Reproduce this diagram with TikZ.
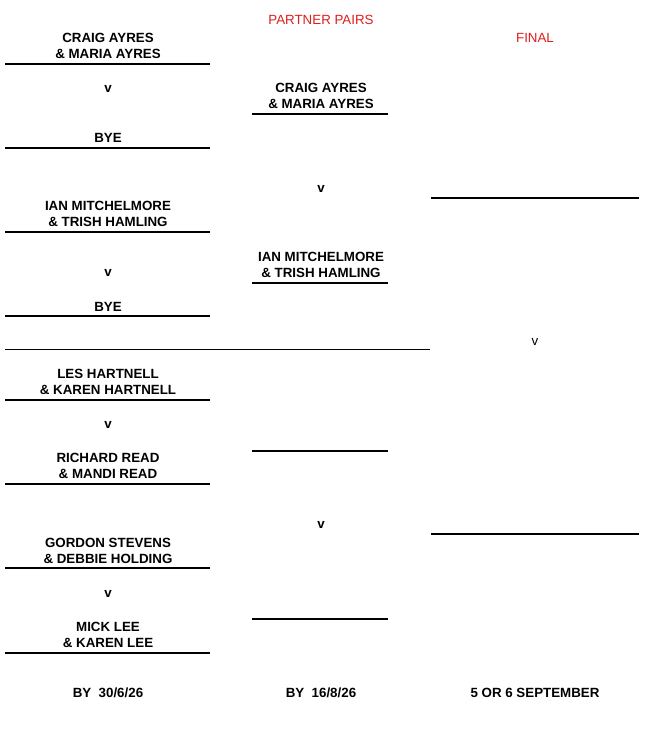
\documentclass[tikz,border=0pt]{standalone}
\usepackage{fontspec}
\setmainfont{Liberation Sans}
\definecolor{hdred}{RGB}{220,30,30}
\tikzset{
  pair/.style={font=\fontsize{10}{12}\selectfont\bfseries, align=center, inner sep=0pt},
  head/.style={font=\fontsize{10}{12}\selectfont, text=hdred, inner sep=0pt},
  slot/.style={line width=1.5pt},
}
\begin{document}
\begin{tikzpicture}[x=0.75pt,y=-0.75pt]
\useasboundingbox (0,0) rectangle (662,732);
% headings
\node [head] (pp) at (321,20) {PARTNER PAIRS};
\node [head] (fin) at (535,38) {FINAL};

% first round
\node [pair] (p1) at (108,46) {CRAIG AYRES\\\& MARIA AYRES};
\node [pair] (v1) at (108,89) {v};
\node [pair] (p2) at (108,138) {BYE};
\node [pair] (p3) at (108,214) {IAN MITCHELMORE\\\& TRISH HAMLING};
\node [pair] (v2) at (108,273) {v};
\node [pair] (p4) at (108,307) {BYE};
\node [pair] (p5) at (108,382) {LES HARTNELL\\\& KAREN HARTNELL};
\node [pair] (v3) at (108,425) {v};
\node [pair] (p6) at (108,466) {RICHARD READ\\\& MANDI READ};
\node [pair] (p7) at (108,551) {GORDON STEVENS\\\& DEBBIE HOLDING};
\node [pair] (v4) at (108,594) {v};
\node [pair] (p8) at (108,635) {MICK LEE\\\& KAREN LEE};
\foreach \y in {64,148,232,316,400,484,568,653}
  \draw [slot] (5,\y) -- (210,\y);
\draw (5,349) -- (430,349);

% second round
\node [pair] (s1) at (321,96) {CRAIG AYRES\\\& MARIA AYRES};
\node [pair] (v5) at (321,189) {v};
\node [pair] (s2) at (321,265) {IAN MITCHELMORE\\\& TRISH HAMLING};
\node [pair] (v6) at (321,525) {v};
\foreach \y in {114,283,451,619}
  \draw [slot] (252,\y) -- (388,\y);

% final
\foreach \y in {198,534}
  \draw [slot] (431,\y) -- (639,\y);
\node [inner sep=0pt, font=\fontsize{10}{12}\selectfont] (v7) at (535,342) {v};

% dates
\node [pair] (d1) at (108,693) {BY\ \ 30/6/26};
\node [pair] (d2) at (321,693) {BY\ \ 16/8/26};
\node [pair] (d3) at (535,693) {5 OR 6 SEPTEMBER};
\end{tikzpicture}
\end{document}
